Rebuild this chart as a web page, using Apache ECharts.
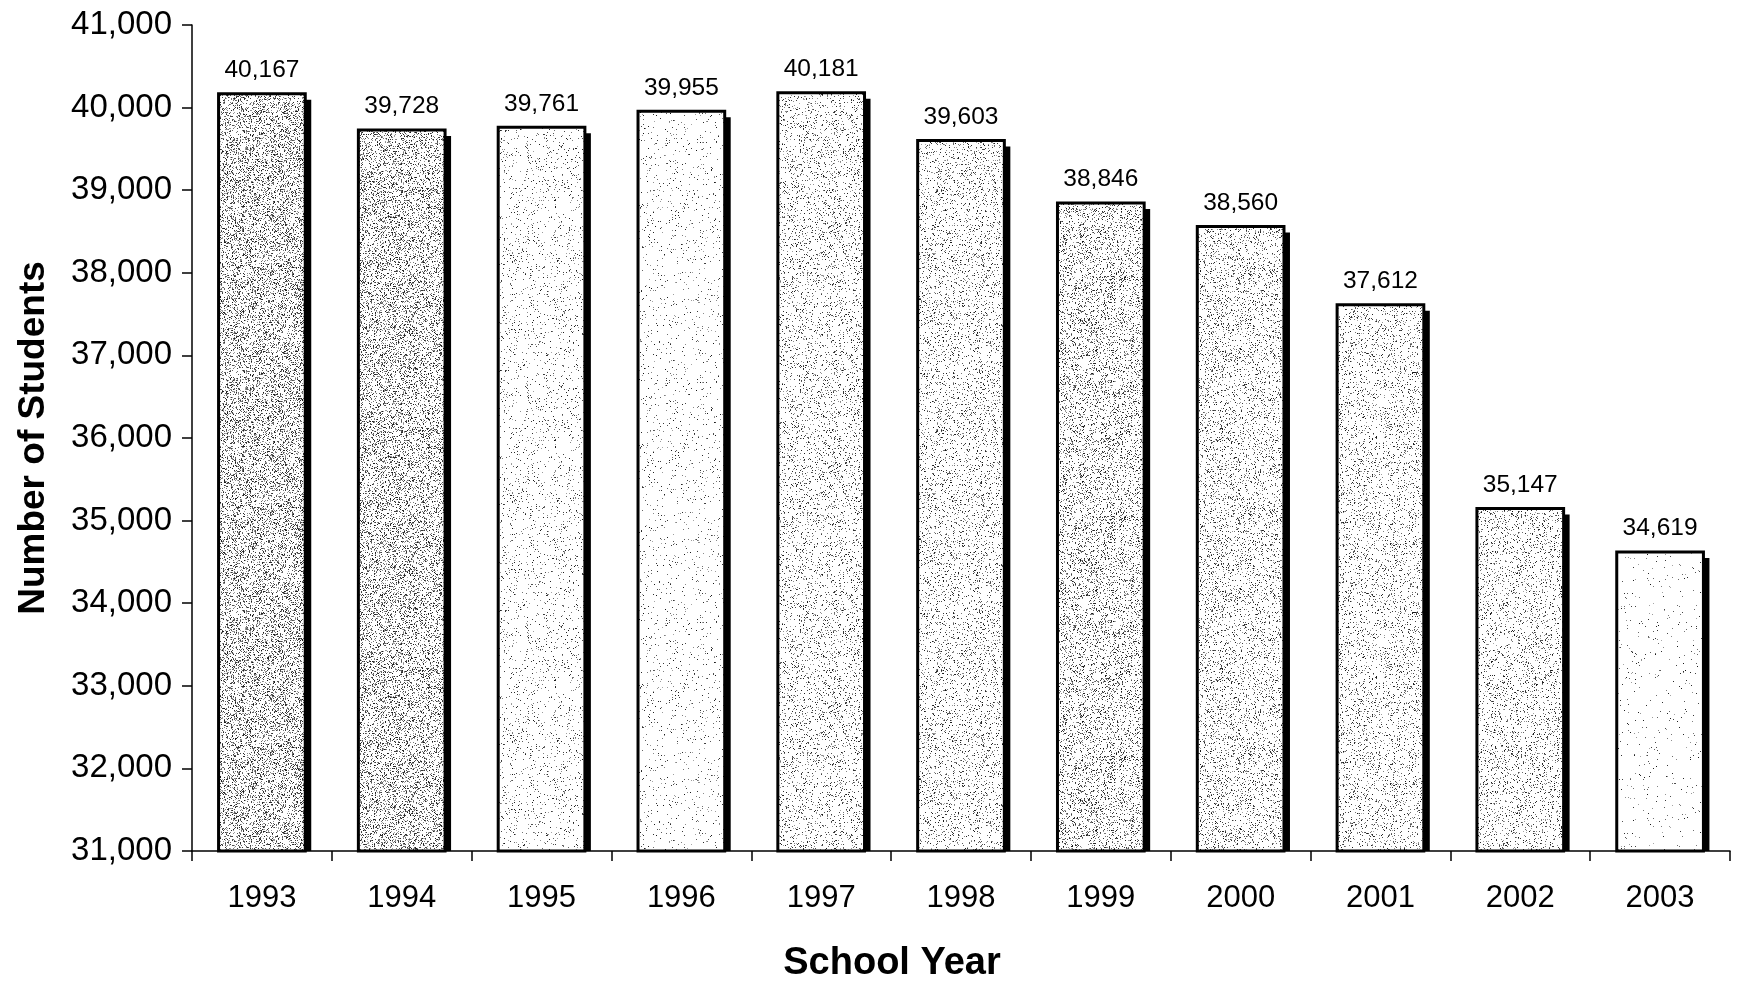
<!DOCTYPE html>
<html>
<head>
<meta charset="utf-8">
<title>Number of Students by School Year</title>
<script src="https://cdn.jsdelivr.net/npm/echarts@6/dist/echarts.min.js"></script>
<style>
  html, body { margin: 0; padding: 0; background: #fff; }
  #chart { width: 1739px; height: 982px; }
</style>
</head>
<body>
<div id="chart"></div>
<script>
// School years and enrolment counts
const years = ['1993', '1994', '1995', '1996', '1997', '1998', '1999', '2000', '2001', '2002', '2003'];
const students = [40167, 39728, 39761, 39955, 40181, 39603, 38846, 38560, 37612, 35147, 34619];

// Value-axis range and tick step
const yMin = 31000;
const yMax = 41000;
const yStep = 1000;

// Stipple density of each bar's fill (fraction of dark specks)
const stippleDensity = [0.27, 0.25, 0.06, 0.035, 0.12, 0.12, 0.18, 0.14, 0.12, 0.12, 0.015];

const FONT = '"Liberation Sans", Arial, Helvetica, sans-serif';

// Deterministic hash used to scatter specks across a fill tile
function hash(n) {
  let x = (n * 2654435761) >>> 0;
  x ^= x >>> 15; x = Math.imul(x, 2246822519) >>> 0;
  x ^= x >>> 13; x = Math.imul(x, 3266489917) >>> 0;
  x ^= x >>> 16;
  return (x >>> 0) / 4294967296;
}

// Builds a speckled grey tile for the bar fill
function makeStipple(density, seed) {
  const w = 96, h = 240;
  const c = document.createElement('canvas');
  c.width = w; c.height = h;
  const ctx = c.getContext('2d');
  ctx.fillStyle = '#ffffff';
  ctx.fillRect(0, 0, w, h);
  const img = ctx.getImageData(0, 0, w, h);
  for (let i = 0; i < w * h; i++) {
    const r = hash(i + seed * 100003);
    if (r < density) {
      const shade = 20 + Math.floor(hash(i * 7 + seed) * 150);
      img.data[i * 4] = shade;
      img.data[i * 4 + 1] = shade;
      img.data[i * 4 + 2] = shade;
    }
  }
  ctx.putImageData(img, 0, 0);
  return c;
}

const fills = stippleDensity.map((d, i) => ({ image: makeStipple(d, i + 1), repeat: 'repeat' }));

const fmt = v => v.toLocaleString('en-US');

const chart = echarts.init(document.getElementById('chart'), null, { renderer: 'canvas' });

chart.setOption({
  animation: false,
  backgroundColor: '#ffffff',
  grid: { left: 192, right: 9, top: 25, bottom: 131, containLabel: false, outerBoundsMode: 'none' },
  xAxis: {
    type: 'category',
    data: years,
    name: 'School Year',
    nameLocation: 'middle',
    nameGap: 94,
    nameTextStyle: { fontFamily: FONT, fontSize: 38, fontWeight: 'bold', color: '#000', padding: [0, 138, 0, 0] },
    axisLine: { show: true, lineStyle: { color: '#000', width: 1.5 } },
    axisTick: { show: true, inside: false, length: 10, lineStyle: { color: '#000', width: 1.5 } },
    axisLabel: { margin: 32, fontFamily: FONT, fontSize: 31, color: '#000' },
    splitLine: { show: false }
  },
  yAxis: {
    type: 'value',
    min: yMin,
    max: yMax,
    interval: yStep,
    name: 'Number of Students',
    nameLocation: 'middle',
    nameRotate: 90,
    nameGap: 140,
    nameTextStyle: { fontFamily: FONT, fontSize: 37, fontWeight: 'bold', color: '#000' },
    axisLine: { show: true, lineStyle: { color: '#000', width: 1.5 } },
    axisTick: { show: true, inside: false, length: 10, lineStyle: { color: '#000', width: 1.5 } },
    axisLabel: { margin: 20, fontFamily: FONT, fontSize: 33, color: '#000', formatter: v => fmt(v) },
    splitLine: { show: false }
  },
  series: [{
    type: 'custom',
    clip: false,
    data: years.map((y, i) => [i, students[i]]),
    encode: { x: 0, y: 1 },
    renderItem: function (params, api) {
      const idx = api.value(0);
      const v = api.value(1);
      const top = api.coord([idx, v]);
      const base = api.coord([idx, yMin]);
      const bw = api.size([1, 0])[0] * 0.62;
      const x = top[0] - bw / 2;
      const h = base[1] - top[1];
      const off = 6;
      return {
        type: 'group',
        children: [
          // drop shadow on the right side of the bar
          { type: 'rect', shape: { x: x + off, y: top[1] + off, width: bw, height: h - off },
            style: { fill: '#000' } },
          // bar body with stippled fill and black outline
          { type: 'rect', shape: { x: x, y: top[1], width: bw, height: h },
            style: { fill: fills[params.dataIndex], stroke: '#000', lineWidth: 3 } },
          // value label above the bar
          { type: 'text', x: top[0], y: top[1] - 11,
            style: { text: fmt(v), align: 'center', verticalAlign: 'bottom',
                     font: '24.5px ' + FONT, fill: '#000' } }
        ]
      };
    }
  }]
});
</script>
</body>
</html>
